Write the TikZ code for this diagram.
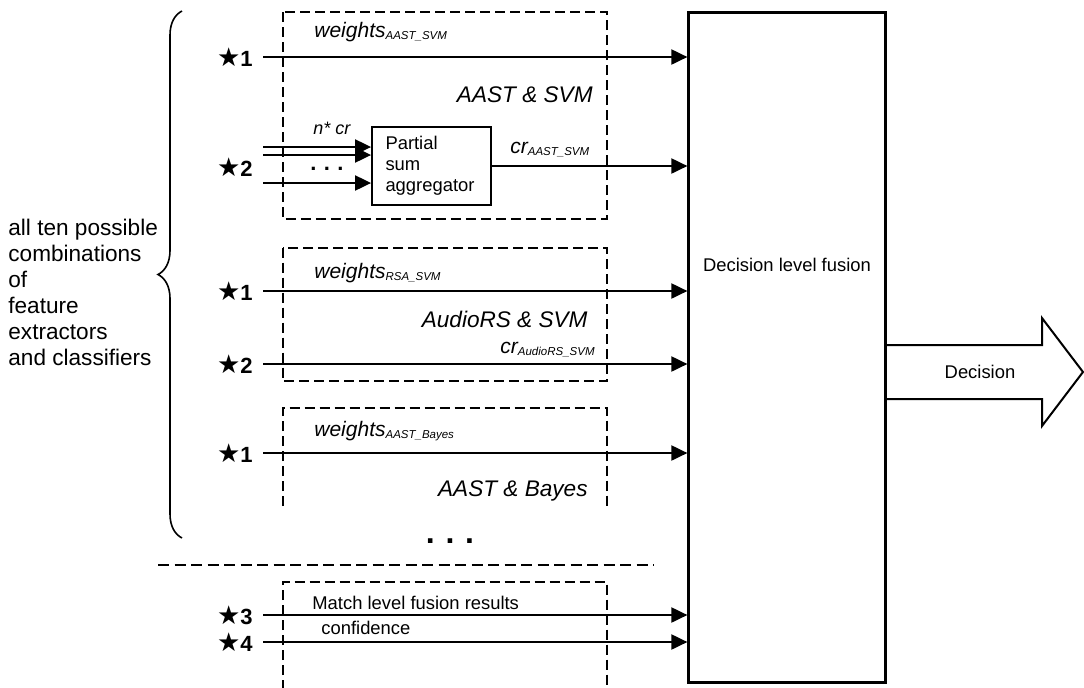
\documentclass[tikz,border=0pt]{standalone}
\usepackage{fontspec}
\setmainfont{Liberation Sans}
\newfontfamily\symfont{DejaVu Sans}
\usetikzlibrary{positioning, arrows.meta, decorations.pathreplacing}

\newcommand{\keymark}[1]{{\symfont\fontsize{13}{13}\selectfont ★}{\bfseries\fontsize{11}{12}\selectfont #1}}
\newcommand{\sublbl}[2]{{\itshape\fontsize{10.5}{12}\selectfont #1\raisebox{-1pt}{\fontsize{5.75}{7}\selectfont #2}}}

\begin{document}
\begin{tikzpicture}[x=0.5pt, y=-0.5pt,
    flow/.style={-{Triangle[length=8pt,width=7.5pt]}, line width=1pt},
    group/.style={dash pattern=on 5pt off 2.5pt, line width=0.9pt},
    keylbl/.style={anchor=east, inner sep=0pt},
    lbl/.style={anchor=west, inner sep=0pt},
    grouplbl/.style={anchor=east, inner sep=0pt, font=\itshape\fontsize{11.3}{13}\selectfont},
    every node/.style={font=\fontsize{9.2}{10.6}\selectfont}
  ]
  \useasboundingbox (0,0) rectangle (1084,687);

  % fusion block and decision
  \node[draw, line width=1.1pt, minimum width=98.5pt, minimum height=335pt, inner sep=0pt] (fusion) at (787,347.5) {};
  \node (fusiontxt) at (787,265) {Decision level fusion};
  \draw[line width=1pt] (fusion.east |- 0,345) -- (1042,345) -- (1042,318) -- (1083,372)
    -- (1042,426) -- (1042,399) -- (fusion.east |- 0,399);
  \node (decision) at (980,372) {Decision};

  % dashed groups
  \draw[group] (282.6,12.3) rectangle (607,219);
  \draw[group] (282.6,247.7) rectangle (607,381);
  \draw[group] (282.6,506) -- (282.6,408) -- (607,408) -- (607,506);
  \draw[group] (282.6,690) -- (282.6,582) -- (607,582) -- (607,690);
  \draw[dash pattern=on 5.5pt off 2.75pt, line width=1.2pt] (158,565) -- (654,565);

  % aggregator
  \node[draw, line width=0.9pt, minimum width=59.5pt, minimum height=39pt, inner xsep=6.75pt,
    text width=46pt, align=left] (agg) at (431.5,166) {Partial\\sum\\aggregator};
  \foreach \y/\n in {147/a, 155/b, 183/c} {
    \coordinate (in\n) at (263,\y);
    \draw[flow] (in\n) -- (in\n -| agg.west);
  }
  \draw[flow] (agg.east) -- (agg.east -| fusion.west);
  \node[keylbl] (k2) at (253,167) {\keymark{2}};

  % inputs
  \foreach \y/\k/\n in {57/1/a, 291/1/b, 364/2/c, 453/1/d, 615/3/e, 642/4/f} {
    \node[keylbl] (k\n) at (253,\y) {\keymark{\k}};
    \coordinate (s\n) at (263,\y);
    \draw[flow] (s\n) -- (s\n -| fusion.west);
  }

  % labels
  \node[lbl] (w1) at (314,32) {\sublbl{weights}{AAST\_SVM}};
  \node[grouplbl] (g1) at (593,95) {AAST \& SVM};
  \node[lbl, font=\itshape\fontsize{9}{10}\selectfont] (ncr) at (313,128) {n* cr};
  \node[lbl] (cr1) at (510,150) {\sublbl{cr}{AAST\_SVM}};
  \node[font=\bfseries\fontsize{11}{12}\selectfont] (dots1) at (327,169) {.\,\,.\,\,.};
  \node[lbl] (w2) at (314,273) {\sublbl{weights}{RSA\_SVM}};
  \node[grouplbl] (g2) at (588,319) {AudioRS \& SVM};
  \node[anchor=east, inner sep=0pt] (cr2) at (595,350) {\sublbl{cr}{AudioRS\_SVM}};
  \node[lbl] (w3) at (314,431) {\sublbl{weights}{AAST\_Bayes}};
  \node[grouplbl] (g3) at (588,491) {AAST \& Bayes};
  \node[font=\bfseries\fontsize{16}{17}\selectfont] (dots2) at (450,541) {.\,\,.\,\,.};
  \node[lbl] (match) at (312,603) {Match level fusion results};
  \node[lbl] (conf) at (321,628) {confidence};

  % brace
  \draw[line width=0.8pt, decorate, decoration={brace, amplitude=12pt}] (182,538) -- (182,11);
  \node[anchor=west, inner sep=0pt, align=left, font=\fontsize{11.3}{13}\selectfont] (combos) at (8,292)
    {all ten possible\\combinations\\of\\feature\\extractors\\and classifiers};
\end{tikzpicture}
\end{document}
